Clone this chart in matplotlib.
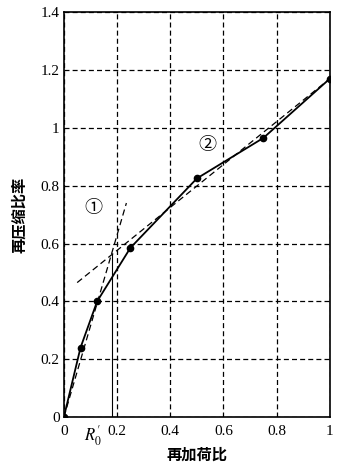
"""Recompression ratio vs reloading ratio with two tangent lines."""

import matplotlib.pyplot as plt

plt.rcParams["mathtext.fontset"] = "stix"

# measured points
load_ratio = [0, 0.0625, 0.125, 0.25, 0.5, 0.75, 1.0]
recomp_ratio = [0, 0.24, 0.40, 0.585, 0.825, 0.965, 1.17]

# tangent line 1 (initial slope) and line 2 (later slope)
line1_x = [0, 0.235]
line1_y = [0, 0.74]
line2_x = [0.05, 1.0]
line2_y = [0.465, 1.17]

r0_x = 0.18
r0_y = 0.565

xticks = [0, 0.2, 0.4, 0.6, 0.8, 1]
xtick_labels = ["0", "0.2", "0.4", "0.6", "0.8", "1"]
yticks = [0, 0.2, 0.4, 0.6, 0.8, 1, 1.2, 1.4]
ytick_labels = ["0", "0.2", "0.4", "0.6", "0.8", "1", "1.2", "1.4"]

SERIF = ["Liberation Serif", "Noto Sans CJK SC"]
CJK = ["Noto Sans CJK SC", "DejaVu Sans"]

fig = plt.figure(figsize=(3.38, 4.65), dpi=100)
ax = fig.add_axes([0.189, 0.103, 0.787, 0.871])

ax.plot(load_ratio, recomp_ratio, color="black", lw=1.3, marker="o", ms=4.5, zorder=4)
ax.plot(line1_x, line1_y, color="black", lw=0.9, ls=(0, (5, 3)), zorder=3)
ax.plot(line2_x, line2_y, color="black", lw=0.9, ls=(0, (5, 3)), zorder=3)
ax.plot([r0_x, r0_x], [0, r0_y], color="black", lw=0.8, zorder=3)

ax.set_xlim(0, 1)
ax.set_ylim(0, 1.4)
ax.set_xticks(xticks)
ax.set_xticklabels(xtick_labels, family=SERIF, fontsize=11)
ax.set_yticks(yticks)
ax.set_yticklabels(ytick_labels, family=SERIF, fontsize=11)
ax.tick_params(axis="x", length=0, pad=6)
ax.tick_params(axis="y", length=0, pad=3)
ax.grid(True, color="black", ls=(0, (4, 2.5)), lw=0.9)
for sp in ax.spines.values():
    sp.set_linewidth(1.2)

ax.text(0.11, -0.014, "$R_0'$", transform=ax.get_xaxis_transform(), ha="center", va="top",
        fontsize=12)
ax.text(0.11, 0.72, "①", ha="center", va="center", fontsize=13, family=SERIF)
ax.text(0.54, 0.94, "②", ha="center", va="center", fontsize=13, family=SERIF)

ax.set_xlabel("再加荷比", family=CJK, fontsize=11, fontweight="bold", labelpad=6)
ax.set_ylabel("再压缩比率", family=CJK, fontsize=11, fontweight="bold", labelpad=10)

fig.savefig("out.png", dpi=100)
